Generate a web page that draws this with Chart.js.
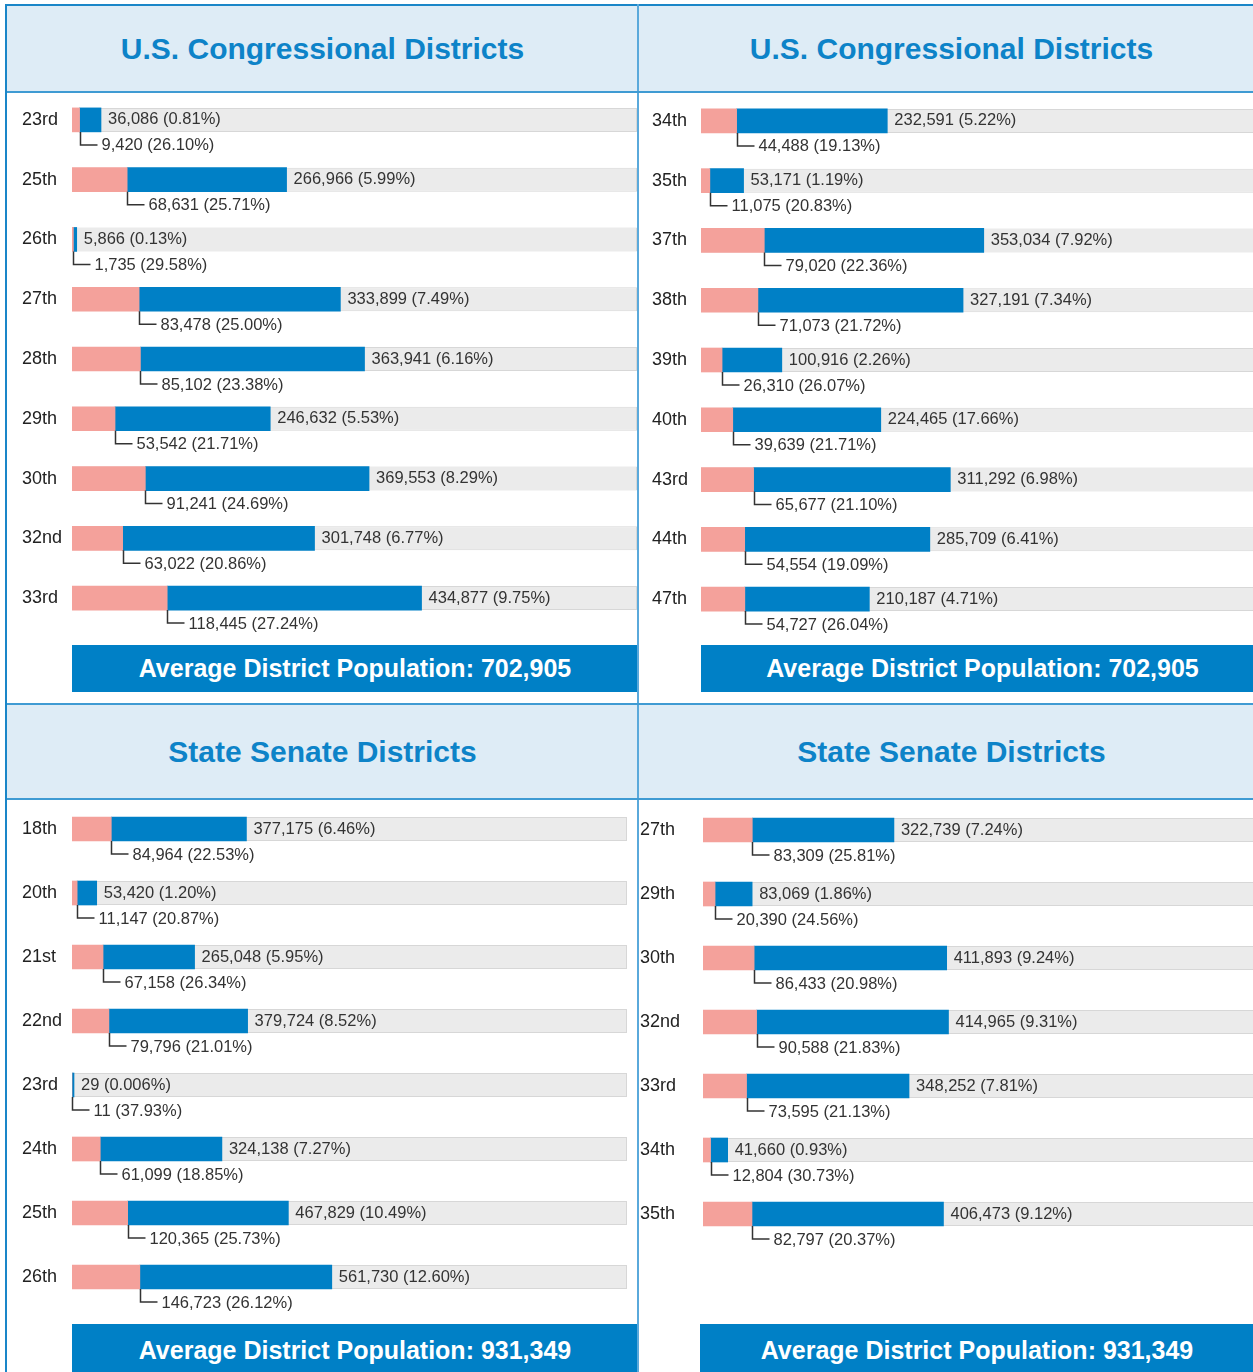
<!DOCTYPE html>
<html>
<head>
<meta charset="utf-8">
<script src="https://cdn.jsdelivr.net/npm/chart.js@4.4.1/dist/chart.umd.min.js"></script>
<style>
	body { margin: 0; width: 1253px; height: 1372px; overflow: hidden; background: #fff; position: relative; font-family: 'Liberation Sans', Arial, sans-serif; }
	.abs { position: absolute; }
	.head { background: #deecf6; color: #0d83c8; font-weight: bold; font-size: 30px; display: flex; align-items: center; justify-content: center; }
	.foot { background: #0080c6; color: #fff; font-weight: bold; font-size: 25px; display: flex; align-items: center; justify-content: center; }
	.line { background: #3f9bd3; }
	canvas { position: absolute; }
</style>
</head>
<body>
<!-- 헤더 -->
<div class="abs head" style="left:7px;top:6px;width:631px;height:86px;">U.S. Congressional Districts</div>
<div class="abs head" style="left:639px;top:6px;width:625px;height:86px;">U.S. Congressional Districts</div>
<div class="abs head" style="left:7px;top:705px;width:631px;height:93px;">State Senate Districts</div>
<div class="abs head" style="left:639px;top:705px;width:625px;height:93px;">State Senate Districts</div>

<canvas id="congLeft" width="638" height="558" style="left:0;top:90px;"></canvas>
<canvas id="congRight" width="626" height="558" style="left:638px;top:91px;"></canvas>
<canvas id="senLeft" width="638" height="532" style="left:0;top:797px;"></canvas>
<canvas id="senRight" width="616" height="532" style="left:638px;top:798px;"></canvas>

<!-- 하단 평균 인구 -->
<div class="abs foot" style="left:72px;top:645px;width:566px;height:47px;">Average District Population: 702,905</div>
<div class="abs foot" style="left:701px;top:645px;width:563px;height:47px;">Average District Population: 702,905</div>
<div class="abs foot" style="left:72px;top:1324px;width:566px;height:52px;">Average District Population: 931,349</div>
<div class="abs foot" style="left:700px;top:1324px;width:554px;height:52px;">Average District Population: 931,349</div>

<!-- 테두리 -->
<div class="abs line" style="left:5px;top:4px;width:1248px;height:2px;background:#1a86c8;"></div>
<div class="abs line" style="left:5px;top:4px;width:2px;height:1368px;background:#1a86c8;"></div>
<div class="abs line" style="left:637px;top:4px;width:2px;height:1368px;background:#5aa9db;"></div>
<div class="abs line" style="left:7px;top:91px;width:1246px;height:2px;"></div>
<div class="abs line" style="left:7px;top:703px;width:1246px;height:2px;"></div>
<div class="abs line" style="left:7px;top:798px;width:1246px;height:2px;"></div>

<script>
// U.S. Congressional Districts (왼쪽)
const congLeftDistricts = ['23rd', '25th', '26th', '27th', '28th', '29th', '30th', '32nd', '33rd'];
const congLeftTotals = [36086, 266966, 5866, 333899, 363941, 246632, 369553, 301748, 434877];
const congLeftTotalPct = [0.81, 5.99, 0.13, 7.49, 6.16, 5.53, 8.29, 6.77, 9.75];
const congLeftSubs = [9420, 68631, 1735, 83478, 85102, 53542, 91241, 63022, 118445];
const congLeftSubPct = [26.10, 25.71, 29.58, 25.00, 23.38, 21.71, 24.69, 20.86, 27.24];

// U.S. Congressional Districts (오른쪽)
const congRightDistricts = ['34th', '35th', '37th', '38th', '39th', '40th', '43rd', '44th', '47th'];
const congRightTotals = [232591, 53171, 353034, 327191, 100916, 224465, 311292, 285709, 210187];
const congRightTotalPct = [5.22, 1.19, 7.92, 7.34, 2.26, 17.66, 6.98, 6.41, 4.71];
const congRightSubs = [44488, 11075, 79020, 71073, 26310, 39639, 65677, 54554, 54727];
const congRightSubPct = [19.13, 20.83, 22.36, 21.72, 26.07, 21.71, 21.10, 19.09, 26.04];

// State Senate Districts (왼쪽)
const senLeftDistricts = ['18th', '20th', '21st', '22nd', '23rd', '24th', '25th', '26th'];
const senLeftTotals = [377175, 53420, 265048, 379724, 29, 324138, 467829, 561730];
const senLeftTotalPct = [6.46, 1.20, 5.95, 8.52, 0.006, 7.27, 10.49, 12.60];
const senLeftSubs = [84964, 11147, 67158, 79796, 11, 61099, 120365, 146723];
const senLeftSubPct = [22.53, 20.87, 26.34, 21.01, 37.93, 18.85, 25.73, 26.12];

// State Senate Districts (오른쪽)
const senRightDistricts = ['27th', '29th', '30th', '32nd', '33rd', '34th', '35th'];
const senRightTotals = [322739, 83069, 411893, 414965, 348252, 41660, 406473];
const senRightTotalPct = [7.24, 1.86, 9.24, 9.31, 7.81, 0.93, 9.12];
const senRightSubs = [83309, 20390, 86433, 90588, 73595, 12804, 82797];
const senRightSubPct = [25.81, 24.56, 20.98, 21.83, 21.13, 30.73, 20.37];

const FONT = "'Liberation Sans', Arial, sans-serif";
const fmt = v => v.toLocaleString('en-US');
const pct = p => p < 0.01 ? p.toFixed(3) : p.toFixed(2);

// 막대 옆 수치와 ㄴ자 연결선 그리기
const barLabels = {
	id: 'barLabels',
	afterDatasetsDraw(chart, args, opts) {
		const ctx = chart.ctx;
		const pinkMeta = chart.getDatasetMeta(1);
		const blueMeta = chart.getDatasetMeta(2);
		ctx.save();
		ctx.font = '16.5px ' + FONT;
		ctx.fillStyle = '#333';
		ctx.strokeStyle = '#333';
		ctx.lineWidth = 1.5;
		ctx.textBaseline = 'middle';
		opts.totals.forEach((v, i) => {
			const blue = blueMeta.data[i];
			const pink = pinkMeta.data[i];
			ctx.fillText(fmt(v) + ' (' + pct(opts.totalPct[i]) + '%)', blue.x + 7, blue.y);
			const bx = Math.round(pink.x) + 0.5;
			const ly = blue.y + 25;
			ctx.beginPath();
			ctx.moveTo(bx, blue.y + 12);
			ctx.lineTo(bx, ly);
			ctx.lineTo(bx + 17, ly);
			ctx.stroke();
			ctx.fillText(fmt(opts.subs[i]) + ' (' + pct(opts.subPct[i]) + '%)', bx + 21, ly + 1);
		});
		ctx.restore();
	}
};

function makePanel(id, districts, totals, totalPct, subs, subPct, axisMax, slots, padLeft, axisWidth, padRight) {
	const labels = districts.slice();
	const pinkData = subs.slice();
	const blueData = totals.map((t, i) => t - subs[i]);
	const trackData = totals.map(() => axisMax);
	// 빈 칸을 채워 행 간격을 맞춤
	while (labels.length < slots) {
		labels.push('');
		pinkData.push(null);
		blueData.push(null);
		trackData.push(null);
	}
	const ctx = document.getElementById(id).getContext('2d');
	return new Chart(ctx, {
		type: 'bar',
		data: {
			labels: labels,
			datasets: [
				{
					data: trackData,
					backgroundColor: '#ebebeb',
					borderColor: '#d7d7d7',
					borderWidth: 1,
					grouped: false,
					stack: 'track',
					maxBarThickness: 24,
					barPercentage: 0.9,
					order: 2
				},
				{
					data: pinkData,
					backgroundColor: '#f4a19b',
					stack: 'pop',
					barThickness: 24,
					order: 1
				},
				{
					data: blueData,
					backgroundColor: '#0080c6',
					stack: 'pop',
					barThickness: 24,
					minBarLength: 2,
					order: 1
				}
			]
		},
		options: {
			indexAxis: 'y',
			responsive: false,
			animation: false,
			events: [],
			// 아래쪽 여백은 마지막 행의 보조 라벨이 잘리지 않게 하기 위함
			layout: { padding: { left: padLeft, right: padRight, top: 0, bottom: 20 } },
			plugins: {
				legend: { display: false },
				tooltip: { enabled: false },
				barLabels: { totals: totals, totalPct: totalPct, subs: subs, subPct: subPct }
			},
			scales: {
				x: { stacked: true, display: false, min: 0, max: axisMax },
				y: {
					stacked: true,
					grid: { display: false },
					border: { display: false },
					ticks: {
						autoSkip: false,
						crossAlign: 'far',
						color: '#222',
						font: { size: 18, family: FONT }
					},
					afterFit(axis) {
						axis.width = axisWidth;
						axis.paddingTop = 0;
						axis.paddingBottom = 0;
					}
				}
			}
		},
		plugins: [barLabels]
	});
}

makePanel('congLeft', congLeftDistricts, congLeftTotals, congLeftTotalPct, congLeftSubs, congLeftSubPct, 702905, 9, 22, 50, 1);
makePanel('congRight', congRightDistricts, congRightTotals, congRightTotalPct, congRightSubs, congRightSubPct, 702905, 9, 14, 49, 0);
makePanel('senLeft', senLeftDistricts, senLeftTotals, senLeftTotalPct, senLeftSubs, senLeftSubPct, 1200000, 8, 22, 50, 11);
makePanel('senRight', senRightDistricts, senRightTotals, senRightTotalPct, senRightSubs, senRightSubPct, 931349, 8, 2, 63, 0);
</script>
</body>
</html>
